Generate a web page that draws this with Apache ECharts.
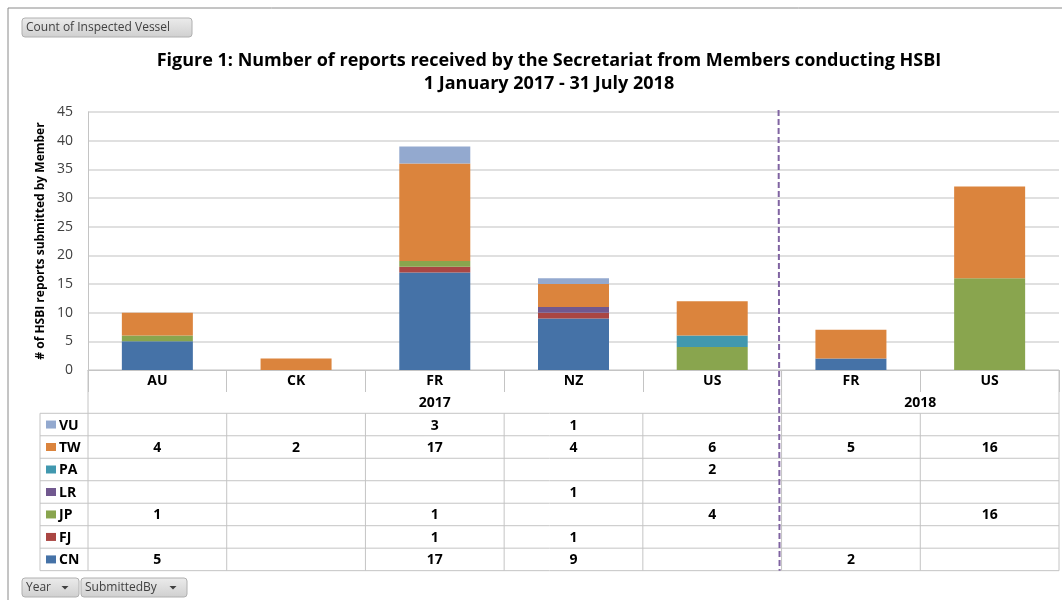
<!DOCTYPE html>
<html>
<head>
<meta charset="utf-8">
<script src="https://cdn.jsdelivr.net/npm/echarts@6/dist/echarts.min.js"></script>
<style>
    html, body { margin: 0; padding: 0; background: #fff; }
    #chart { width: 1062px; height: 600px; }
</style>
</head>
<body>
<div id="chart"></div>
<script>
// 数据
const members = ['AU', 'CK', 'FR', 'NZ', 'US', 'FR', 'US'];
const years = ['2017', '2018'];
const yearSpans = [5, 2];
const submitters = ['CN', 'FJ', 'JP', 'LR', 'PA', 'TW', 'VU'];
const cnData = [5, null, 17, 9, null, 2, null];
const fjData = [null, null, 1, 1, null, null, null];
const jpData = [1, null, 1, null, 4, null, 16];
const lrData = [null, null, null, 1, null, null, null];
const paData = [null, null, null, null, 2, null, null];
const twData = [4, 2, 17, 4, 6, 5, 16];
const vuData = [null, null, 3, 1, null, null, null];
const yTicks = [0, 45, 5];

const seriesData = [cnData, fjData, jpData, lrData, paData, twData, vuData];
const colors = ['#4572A7', '#AA4643', '#89A54E', '#71588F', '#4198AF', '#DB843D', '#93A9CF'];

const FONT = '"Open Sans", "DejaVu Sans", sans-serif';
const lineColor = '#c4c4c4';

const chart = echarts.init(document.getElementById('chart'));

const option = {
    animation: false,
    title: {
        text: 'Figure 1: Number of reports received by the Secretariat from Members conducting HSBI\n1 January 2017 - 31 July 2018',
        left: 544,
        top: 44,
        textAlign: 'center',
        textStyle: {
            fontFamily: FONT,
            fontSize: 18,
            fontWeight: 'bold',
            color: '#000',
            lineHeight: 23
        }
    },
    grid: { left: 88, top: 112, width: 971, height: 258 },
    xAxis: {
        type: 'category',
        data: members,
        axisLine: { lineStyle: { color: lineColor, width: 1 } },
        axisTick: { show: true, length: 22, lineStyle: { color: lineColor } },
        axisLabel: { fontFamily: FONT, fontSize: 14, fontWeight: 'bold', color: '#000', margin: 4 }
    },
    yAxis: {
        type: 'value',
        min: yTicks[0],
        max: yTicks[1],
        interval: yTicks[2],
        name: '# of HSBI reports submitted by Member',
        nameLocation: 'middle',
        nameGap: 40,
        nameTextStyle: { fontFamily: FONT, fontSize: 12, fontWeight: 'bold', color: '#000' },
        axisLine: { show: true, lineStyle: { color: lineColor } },
        axisTick: { show: false },
        axisLabel: { fontFamily: FONT, fontSize: 14, color: '#404040', margin: 15 },
        splitLine: { lineStyle: { color: '#d6d6d6', width: 1.5 } }
    },
    series: submitters.map((name, i) => ({
        name: name,
        type: 'bar',
        stack: 'total',
        barWidth: 71,
        data: seriesData[i],
        itemStyle: { color: colors[i] }
    }))
};
chart.setOption(option);

// 数据表格、按钮等
function buildGraphics() {
    const g = [];
    const gridBottom = 370;
    const tableTop = 413.3;
    const rowH = 22.48;
    const tableLeft = 40;
    const half = chart.convertToPixel({ xAxisIndex: 0 }, 1) - chart.convertToPixel({ xAxisIndex: 0 }, 0);
    const colCenter = members.map((m, i) => chart.convertToPixel({ xAxisIndex: 0 }, i));
    const bounds = [colCenter[0] - half / 2].concat(colCenter.map(c => c + half / 2));
    const right = bounds[bounds.length - 1];
    const tableBottom = tableTop + rowH * submitters.length;
    const tableFont = 'bold 14px ' + FONT;
    const line = (x1, y1, x2, y2, style) => g.push({
        type: 'line', shape: { x1, y1, x2, y2 },
        style: Object.assign({ stroke: lineColor, lineWidth: 1 }, style || {})
    });

    // 外框
    line(8, 8, 1062, 8, { stroke: '#8a8a8a' });
    line(8, 8, 8, 600, { stroke: '#8a8a8a' });

    // 表格线
    for (let k = 0; k <= submitters.length; k++) {
        line(tableLeft, tableTop + k * rowH, right, tableTop + k * rowH);
    }
    line(tableLeft, tableTop, tableLeft, tableBottom);
    line(bounds[0], gridBottom, bounds[0], tableBottom);
    line(right, gridBottom, right, tableBottom);
    for (let k = 1; k < members.length; k++) {
        line(bounds[k], k === yearSpans[0] ? gridBottom : tableTop, bounds[k], tableBottom);
    }

    // 年份
    let start = 0;
    years.forEach((y, i) => {
        const x0 = bounds[start], x1 = bounds[start + yearSpans[i]];
        g.push({
            type: 'text', x: (x0 + x1) / 2, y: 403,
            style: { text: y, font: tableFont, fill: '#000', align: 'center', verticalAlign: 'middle' }
        });
        start += yearSpans[i];
    });

    // 分隔虚线
    const dx = bounds[yearSpans[0]] - 3;
    line(dx, 110, dx + 1, tableBottom, { stroke: '#8064A2', lineWidth: 2, lineDash: [6, 3] });

    // 行：图例 + 数值（从上到下 VU ... CN）
    const order = submitters.map((s, i) => i).reverse();
    order.forEach((si, r) => {
        const cy = tableTop + rowH * (r + 0.5);
        g.push({ type: 'rect', shape: { x: 46, y: cy - 4, width: 10, height: 8 }, style: { fill: colors[si] } });
        g.push({
            type: 'text', x: 59, y: cy + 1,
            style: { text: submitters[si], font: tableFont, fill: '#000', verticalAlign: 'middle' }
        });
        seriesData[si].forEach((v, c) => {
            if (v == null) return;
            g.push({
                type: 'text', x: colCenter[c], y: cy + 1,
                style: { text: String(v), font: tableFont, fill: '#000', align: 'center', verticalAlign: 'middle' }
            });
        });
    });

    // 按钮
    const button = (x, w, y, label, arrow) => {
        g.push({
            type: 'rect', shape: { x: x, y: y, width: w, height: 19, r: 3 },
            style: {
                stroke: '#b0b0b0', lineWidth: 1,
                fill: new echarts.graphic.LinearGradient(0, 0, 0, 1, [
                    { offset: 0, color: '#ececec' }, { offset: 1, color: '#cfcfcf' }
                ])
            }
        });
        g.push({
            type: 'text', x: x + 4, y: y + 10,
            style: { text: label, font: '12px ' + FONT, fill: '#404040', verticalAlign: 'middle' }
        });
        if (arrow) {
            const ax = x + w - 14;
            g.push({
                type: 'polygon', shape: { points: [[ax - 3.5, y + 8], [ax + 3.5, y + 8], [ax, y + 11.5]] },
                style: { fill: '#404040' }
            });
        }
    };
    button(22, 170, 18, 'Count of Inspected Vessel', false);
    button(22, 57, 578, 'Year', true);
    button(81, 106, 578, 'SubmittedBy', true);

    chart.setOption({ graphic: g });
}
buildGraphics();
</script>
</body>
</html>
